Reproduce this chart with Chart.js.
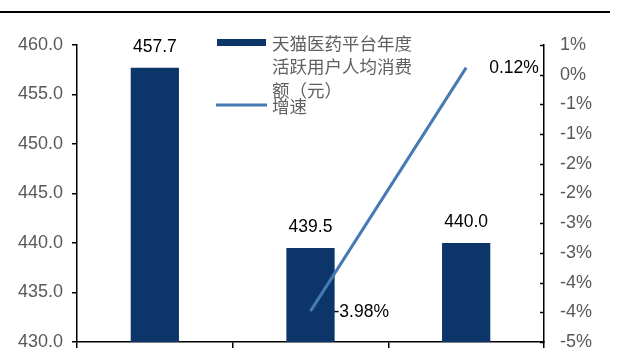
<!DOCTYPE html>
<html>
<head>
<meta charset="utf-8">
<script src="https://cdn.jsdelivr.net/npm/chart.js@4.4.0/dist/chart.umd.min.js"></script>
<style>
  body { margin: 0; background: #fff; }
  #wrap { position: relative; width: 640px; height: 354px; }
  #topline { position: absolute; left: 0; top: 11px; width: 610px; height: 2px; background: #000; }
</style>
</head>
<body>
<div id="wrap">
  <div id="topline"></div>
  <canvas id="myChart" width="640" height="354"></canvas>
</div>
<script>
// categories (axis labels are cut off in the picture)
const categories = ['2017', '2018', '2019'];
// 天猫医药平台年度活跃用户人均消费额（元）
const spending = [457.7, 439.5, 440.0];
// 增速 (%)
const growth = [null, -3.98, 0.12];
// right axis labels, top to bottom
const rightTickLabels = ['1%', '0%', '-1%', '-1%', '-2%', '-2%', '-3%', '-3%', '-4%', '-4%', '-5%'];
const legendBarText = ['天猫医药平台年度', '活跃用户人均消费', '额（元）'];
const legendLineText = '增速';

const barColor = '#0c3669';
const lineColor = '#4779b3';

Chart.defaults.font.family = "'Liberation Sans', Arial, sans-serif";

// etiquetas de datos, leyenda y marcas del eje derecho
const extras = {
  id: 'extras',
  afterDatasetsDraw(chart) {
    const ctx = chart.ctx;
    const xs = chart.scales.x;
    const y = chart.scales.y;
    const y1 = chart.scales.y1;

    ctx.save();
    ctx.fillStyle = '#000';
    ctx.font = "17.5px 'Liberation Sans', Arial, sans-serif";
    ctx.textBaseline = 'middle';

    // bar values
    ctx.textAlign = 'center';
    spending.forEach((v, i) => {
      ctx.fillText(v.toFixed(1), xs.getPixelForValue(i), y.getPixelForValue(v) - 21);
    });

    // growth values
    ctx.textAlign = 'left';
    growth.forEach((v, i) => {
      if (v === null) return;
      ctx.fillText(v.toFixed(2) + '%', xs.getPixelForValue(i) + 23, y1.getPixelForValue(v) + 1);
    });

    // right axis ticks pointing inward
    ctx.strokeStyle = '#000';
    ctx.lineWidth = 1.5;
    y1.ticks.forEach(t => {
      const py = Math.round(y1.getPixelForValue(t.value)) + 0.5;
      ctx.beginPath();
      ctx.moveTo(y1.left - 4, py);
      ctx.lineTo(y1.left, py);
      ctx.stroke();
    });

    // legend
    ctx.fillStyle = barColor;
    ctx.fillRect(217, 39, 49, 7);
    ctx.fillStyle = '#606060';
    ctx.font = "17.5px 'Noto Sans CJK SC', sans-serif";
    legendBarText.forEach((t, i) => {
      ctx.fillText(t, 272, 43 + i * 23.5);
    });
    ctx.fillText(legendLineText, 272, 106);
    ctx.strokeStyle = lineColor;
    ctx.lineWidth = 3;
    ctx.beginPath();
    ctx.moveTo(216, 105);
    ctx.lineTo(267, 105);
    ctx.stroke();

    ctx.restore();
  }
};

// the tick padding would otherwise push the plot area up
const fixVertical = width => s => {
  s.width = width;
  s.paddingTop = 0;
  s.paddingBottom = 0;
};

new Chart(document.getElementById('myChart'), {
  data: {
    labels: categories,
    datasets: [
      {
        type: 'line',
        label: legendLineText,
        data: growth,
        yAxisID: 'y1',
        borderColor: lineColor,
        borderWidth: 3,
        pointRadius: 0,
        tension: 0,
        order: 0
      },
      {
        type: 'bar',
        label: legendBarText.join(''),
        data: spending,
        yAxisID: 'y',
        backgroundColor: barColor,
        barPercentage: 0.31,
        categoryPercentage: 1,
        order: 1
      }
    ]
  },
  options: {
    responsive: false,
    animation: false,
    layout: { padding: { top: 45, left: 0, right: 0, bottom: 0 } },
    plugins: {
      legend: { display: false },
      tooltip: { enabled: false }
    },
    scales: {
      x: {
        grid: { display: true, offset: true, drawOnChartArea: false, drawTicks: true, tickLength: 6, color: '#000', lineWidth: 1.5 },
        border: { color: '#000', width: 1.5 },
        ticks: { display: false },
        afterFit: s => { s.height = 12; }
      },
      y: {
        position: 'left',
        min: 430,
        max: 460,
        grid: { drawOnChartArea: false, drawTicks: true, tickLength: 5, color: '#000', lineWidth: 1.5 },
        border: { color: '#000', width: 1.5 },
        ticks: {
          stepSize: 5,
          color: '#595959',
          font: { size: 18 },
          padding: 9,
          callback: v => v.toFixed(1)
        },
        afterFit: fixVertical(77)
      },
      y1: {
        position: 'right',
        min: -4.5,
        max: 0.5,
        grid: { drawOnChartArea: false, drawTicks: false },
        border: { color: '#000', width: 1.5 },
        ticks: {
          stepSize: 0.5,
          color: '#595959',
          font: { size: 18 },
          padding: 16,
          callback: (v, i, ticks) => rightTickLabels[ticks.length - 1 - i]
        },
        afterFit: fixVertical(96)
      }
    }
  },
  plugins: [extras]
});
</script>
</body>
</html>
